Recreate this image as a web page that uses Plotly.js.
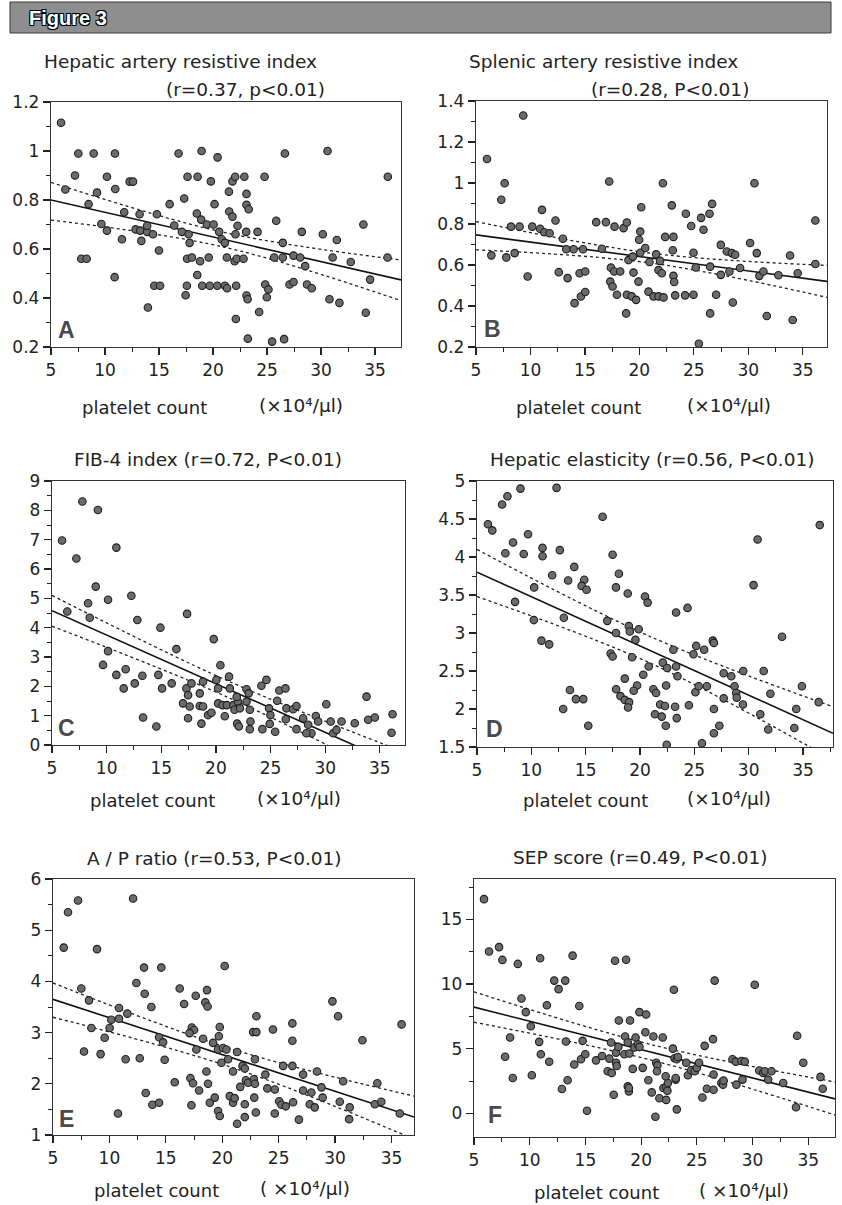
<!DOCTYPE html>
<html>
<head>
<meta charset="utf-8">
<script src="https://cdn.plot.ly/plotly-3.0.1.min.js"></script>
<style>html,body{margin:0;padding:0;background:#fff;}#chart{width:842px;height:1205px;}</style>
</head>
<body>
<div id="chart"></div>
<script>
// ---------------- DATA ----------------
const panelLetters = ["A", "B", "C", "D", "E", "F"];
const titleA = ["Hepatic artery resistive index", "(r=0.37, p<0.01)"];
const titleB = ["Splenic artery resistive index", "(r=0.28, P<0.01)"];
const titleC = "FIB-4 index (r=0.72, P<0.01)";
const titleD = "Hepatic elasticity (r=0.56, P<0.01)";
const titleE = "A / P ratio (r=0.53, P<0.01)";
const titleF = "SEP score (r=0.49, P<0.01)";
const figTitle = "Figure 3";
const xLabel = "platelet count";
const xUnit = "(×10⁴/μl)";
const xUnitSp = "( ×10⁴/μl)";

// [platelet count, value]
const ptsA = [[5.93,1.115],[7.53,0.99],[8.95,0.99],[10.92,0.99],[7.22,0.90],[6.33,0.843],[9.26,0.83],[10.18,0.895],[10.95,0.845],[8.48,0.783],[7.8,0.56],[8.3,0.56],[9.66,0.702],[10.18,0.675],[10.89,0.485],[11.78,0.75],[11.57,0.64],[12.28,0.875],[12.59,0.875],[13.2,0.742],[12.83,0.68],[13.26,0.675],[13.9,0.67],[13.36,0.633],[13.9,0.695],[13.97,0.361],[14.44,0.66],[14.8,0.742],[14.56,0.45],[15.1,0.45],[14.99,0.594],[15.98,0.783],[16.41,0.696],[16.81,0.99],[17.33,0.806],[17.12,0.67],[17.74,0.66],[17.64,0.895],[18.57,0.895],[18.94,1.0],[17.83,0.625],[17.6,0.56],[18.05,0.565],[17.58,0.45],[17.46,0.411],[18.54,0.494],[18.5,0.745],[18.9,0.72],[18.8,0.55],[19.6,0.565],[19.8,0.876],[20.42,0.974],[20.14,0.783],[19.43,0.70],[20.05,0.70],[19.0,0.45],[19.7,0.45],[20.4,0.45],[21.1,0.45],[21.3,0.44],[20.57,0.67],[20.8,0.64],[21.1,0.625],[21.47,0.834],[21.8,0.876],[21.5,0.753],[21.8,0.732],[21.28,0.565],[22.05,0.895],[22.27,0.695],[22.08,0.66],[22.0,0.55],[22.2,0.56],[22.14,0.45],[22.11,0.314],[22.9,0.895],[23.1,0.825],[23.1,0.78],[23.3,0.762],[23.07,0.67],[22.82,0.56],[23.1,0.41],[23.2,0.395],[23.22,0.234],[24.12,0.67],[24.27,0.343],[24.77,0.895],[24.83,0.455],[25.13,0.435],[24.98,0.403],[25.47,0.222],[25.85,0.715],[25.66,0.565],[26.46,0.625],[26.46,0.565],[26.65,0.99],[26.58,0.232],[27.08,0.455],[27.45,0.465],[27.45,0.573],[28.07,0.565],[28.22,0.67],[28.53,0.53],[28.7,0.455],[29.14,0.44],[30.16,0.66],[30.6,1.0],[30.78,0.395],[31.07,0.565],[31.46,0.637],[31.7,0.38],[32.75,0.547],[33.92,0.70],[34.14,0.34],[34.54,0.475],[36.18,0.895],[36.15,0.565]];
const ptsB = [[6.01,1.117],[9.34,1.329],[7.63,0.999],[7.32,0.918],[6.41,0.647],[7.78,0.637],[8.55,0.658],[8.21,0.787],[9.0,0.787],[9.74,0.544],[10.17,0.787],[11.06,0.869],[10.9,0.776],[11.27,0.76],[11.76,0.755],[12.3,0.817],[12.6,0.565],[12.98,0.728],[13.29,0.677],[13.41,0.536],[13.96,0.677],[14.05,0.414],[14.51,0.56],[14.82,0.677],[14.63,0.446],[15.03,0.468],[15.03,0.568],[16.04,0.809],[16.56,0.679],[16.93,0.809],[17.23,1.007],[17.39,0.587],[17.69,0.568],[17.33,0.519],[17.54,0.495],[17.94,0.455],[17.72,0.787],[18.55,0.78],[18.85,0.807],[18.24,0.568],[18.79,0.364],[19.0,0.624],[19.4,0.641],[18.85,0.455],[19.3,0.447],[19.7,0.43],[19.46,0.563],[19.92,0.519],[19.98,0.723],[20.08,0.763],[20.17,0.882],[20.08,0.66],[20.54,0.683],[20.93,0.615],[20.84,0.47],[21.3,0.447],[21.76,0.447],[22.22,0.442],[21.54,0.652],[21.9,0.62],[21.76,0.575],[22.06,0.56],[22.16,0.999],[22.37,0.737],[22.98,0.891],[23.13,0.737],[23.07,0.672],[23.13,0.547],[23.2,0.517],[23.29,0.452],[24.27,0.85],[24.2,0.452],[24.76,0.79],[24.97,0.66],[24.97,0.455],[25.18,0.588],[25.46,0.216],[25.67,0.83],[25.89,0.772],[26.44,0.85],[26.68,0.898],[26.5,0.592],[26.5,0.364],[27.05,0.455],[27.48,0.698],[27.48,0.552],[28.03,0.666],[28.49,0.658],[28.8,0.65],[28.27,0.568],[28.58,0.417],[29.25,0.585],[30.17,0.707],[30.57,0.999],[30.78,0.658],[31.02,0.547],[31.39,0.568],[31.7,0.351],[32.77,0.55],[33.84,0.646],[34.08,0.332],[34.54,0.56],[36.16,0.817],[36.16,0.605]];
const ptsC = [[5.92,6.97],[6.4,4.55],[7.23,6.36],[7.78,8.3],[9.2,8.01],[9.0,5.4],[8.3,4.83],[8.45,4.34],[10.13,4.95],[10.89,6.73],[12.26,5.09],[12.81,4.26],[14.92,4.0],[16.38,3.27],[17.36,4.47],[19.8,3.61],[10.13,3.2],[9.67,2.73],[10.89,2.39],[11.74,2.58],[11.56,1.93],[12.57,2.1],[13.27,2.36],[13.33,0.94],[14.55,0.63],[14.73,2.39],[15.07,1.93],[15.95,2.1],[16.99,1.42],[17.6,1.31],[17.45,0.91],[17.3,1.93],[17.45,1.7],[17.76,2.1],[18.52,1.76],[18.52,1.33],[18.82,1.31],[18.82,2.16],[18.67,0.73],[19.28,1.02],[19.59,1.1],[20.04,2.22],[20.2,1.93],[20.41,2.72],[20.2,1.42],[20.6,1.36],[20.81,0.98],[21.2,2.33],[21.27,1.93],[21.0,1.36],[21.6,1.36],[22.0,1.48],[21.7,1.2],[22.2,1.25],[21.9,1.64],[21.94,0.73],[22.1,0.63],[22.8,1.9],[23.0,1.76],[22.8,1.48],[23.1,1.2],[23.16,0.8],[23.1,0.54],[24.16,2.02],[24.62,2.22],[24.25,0.54],[24.86,1.25],[24.98,1.02],[24.92,0.72],[25.42,0.45],[25.6,1.51],[25.8,1.86],[26.36,1.93],[26.39,0.88],[26.45,1.25],[27.06,1.22],[27.37,1.33],[27.37,0.54],[27.98,0.91],[28.44,0.69],[28.74,0.4],[28.28,0.4],[29.14,0.99],[29.35,0.8],[30.1,1.39],[30.5,0.8],[30.73,0.4],[31.03,0.51],[31.49,0.8],[32.7,0.74],[33.78,1.65],[33.93,0.86],[34.54,0.94],[36.16,1.05],[36.07,0.42]];
const ptsD = [[6.01,4.43],[6.41,4.35],[7.31,4.69],[7.8,4.8],[9.0,4.9],[12.32,4.91],[7.61,4.05],[8.32,4.19],[9.3,4.04],[9.7,4.3],[11.03,4.12],[11.03,4.01],[12.62,4.09],[11.92,3.76],[10.26,3.6],[8.5,3.41],[10.23,3.17],[10.93,2.9],[11.64,2.85],[12.99,3.2],[13.39,3.69],[13.95,3.87],[14.87,3.7],[14.63,3.62],[15.08,3.57],[12.93,2.0],[13.55,2.25],[14.1,2.13],[14.78,2.13],[15.24,1.78],[16.56,4.53],[17.48,4.03],[18.06,3.78],[17.79,3.6],[18.87,3.52],[16.99,3.16],[17.79,3.0],[18.97,3.09],[19.06,3.02],[19.88,3.05],[19.58,2.91],[20.46,3.48],[20.7,3.4],[17.3,2.73],[17.48,2.69],[19.27,2.68],[18.6,2.4],[17.8,2.26],[18.2,2.17],[18.6,2.12],[19.0,2.09],[18.9,2.02],[19.73,2.31],[19.42,2.24],[20.3,2.45],[20.8,2.56],[21.23,2.26],[21.48,2.21],[21.38,1.93],[22.0,1.9],[21.85,2.06],[22.3,2.04],[22.1,2.61],[22.5,2.54],[22.4,2.31],[22.37,1.78],[22.46,1.53],[23.07,2.78],[23.32,3.27],[23.45,2.43],[23.23,2.03],[23.38,1.88],[23.32,2.56],[24.37,3.33],[24.5,2.05],[24.92,2.72],[25.17,2.83],[25.1,2.22],[25.4,2.3],[25.9,2.78],[26.15,2.3],[25.7,1.55],[26.7,2.9],[26.8,2.87],[26.8,2.0],[26.8,1.68],[27.3,1.78],[27.7,2.47],[28.4,2.43],[27.7,2.14],[28.7,2.3],[28.85,2.21],[28.9,2.15],[29.47,2.06],[29.5,2.5],[30.45,3.63],[30.82,4.23],[31.07,1.93],[31.38,2.5],[32.0,2.2],[31.8,1.73],[33.07,2.95],[34.2,1.75],[34.38,2.0],[34.9,2.3],[36.54,4.42],[36.44,2.09]];
const ptsE = [[5.95,4.66],[6.33,5.35],[7.22,5.58],[7.51,3.86],[8.19,3.63],[7.75,2.63],[8.4,3.09],[8.9,4.63],[9.22,2.58],[9.58,2.9],[10.02,3.09],[10.17,3.25],[10.85,3.48],[10.85,3.27],[10.76,1.42],[11.59,3.37],[11.44,2.48],[12.1,5.62],[12.39,3.97],[12.69,2.5],[13.07,4.27],[13.13,3.76],[13.22,1.82],[13.72,3.5],[13.81,1.59],[14.4,1.63],[14.6,4.27],[14.4,2.91],[14.76,2.81],[14.9,2.47],[15.79,2.03],[16.23,3.86],[16.62,3.56],[17.27,1.58],[17.18,2.11],[17.41,2.01],[17.3,3.1],[17.5,3.05],[17.1,2.99],[17.65,3.72],[17.71,2.67],[17.95,1.87],[18.3,2.88],[18.5,3.59],[18.7,3.51],[18.65,3.83],[18.6,2.24],[18.74,2.0],[18.9,1.63],[19.19,2.8],[19.63,2.67],[19.34,1.73],[19.63,1.47],[19.78,1.37],[19.78,3.11],[19.7,2.93],[19.93,2.41],[20.22,4.3],[20.07,2.7],[20.37,2.67],[20.52,2.48],[20.67,1.76],[20.96,1.63],[21.1,1.72],[20.96,2.24],[21.32,2.62],[21.32,1.22],[21.6,1.94],[22.0,1.6],[21.8,2.35],[22.0,2.3],[22.1,2.07],[22.3,2.02],[22.0,1.35],[22.8,2.09],[22.9,2.0],[22.74,3.01],[23.03,3.01],[23.03,3.32],[22.9,2.48],[22.84,1.73],[22.98,1.44],[23.83,2.18],[24.0,1.91],[24.5,3.06],[24.66,1.89],[24.66,1.42],[25.05,1.66],[25.25,1.59],[25.4,2.35],[25.63,1.56],[26.22,3.18],[26.22,2.35],[26.22,2.84],[26.28,1.64],[26.8,1.3],[27.17,2.18],[27.17,1.87],[27.9,1.83],[27.76,1.6],[28.2,1.54],[28.4,2.24],[28.8,1.93],[28.9,1.73],[29.77,3.61],[30.27,3.32],[30.42,1.65],[30.72,2.05],[31.25,1.31],[31.3,1.54],[32.43,2.85],[33.53,1.6],[33.75,2.01],[34.1,1.65],[35.74,1.42],[35.9,3.16]];
const ptsF = [[5.9,16.57],[6.35,12.52],[7.25,12.86],[7.55,11.87],[8.93,11.56],[10.94,12.0],[13.85,12.2],[17.66,11.8],[18.65,11.88],[12.2,10.27],[13.19,10.27],[12.59,9.61],[22.94,9.56],[26.6,10.27],[30.2,9.95],[9.26,8.88],[9.65,7.83],[11.54,8.36],[14.45,8.3],[18.0,7.18],[19.0,7.18],[19.85,7.83],[20.45,7.65],[10.1,6.74],[8.24,5.87],[7.79,4.38],[8.48,2.74],[10.19,2.95],[10.85,5.53],[11.0,4.57],[11.75,3.99],[12.89,1.88],[13.25,5.56],[13.4,2.56],[14.0,3.78],[14.6,4.18],[14.75,5.61],[14.99,4.57],[15.14,0.2],[15.95,4.1],[16.49,4.44],[17.15,4.23],[17.3,5.48],[17.0,3.26],[17.36,3.13],[17.54,1.44],[17.75,3.92],[17.81,3.66],[17.75,4.7],[17.96,5.14],[18.56,5.95],[18.8,5.48],[18.5,4.57],[18.95,4.63],[18.8,2.09],[18.9,1.7],[18.9,1.96],[19.25,3.44],[19.4,5.1],[19.7,5.35],[19.85,5.14],[19.5,5.87],[20.14,3.52],[20.38,6.27],[20.65,2.56],[20.95,1.62],[21.1,5.95],[21.35,3.92],[21.46,3.71],[21.42,3.26],[21.28,-0.26],[21.64,1.17],[21.94,5.87],[22.0,1.96],[22.25,2.04],[22.36,1.75],[22.25,1.04],[22.4,2.35],[22.2,2.87],[22.85,5.01],[23.0,4.26],[23.2,4.18],[23.3,4.36],[23.1,2.61],[23.1,2.74],[23.2,0.31],[24.2,2.95],[24.05,3.92],[24.5,3.34],[24.8,3.26],[25.0,3.52],[25.2,3.92],[25.5,1.23],[25.7,5.22],[25.9,1.9],[26.45,5.74],[26.5,3.0],[26.5,1.83],[27.2,2.35],[27.35,2.22],[27.4,2.53],[28.2,4.18],[28.5,4.0],[29.0,4.05],[29.3,4.0],[28.55,2.22],[29.1,2.61],[30.6,3.31],[30.95,3.13],[31.1,3.26],[31.7,3.26],[31.4,2.61],[32.75,2.35],[34.0,6.0],[33.9,0.47],[34.55,3.92],[36.1,2.82],[36.3,1.9]];

// regression line and 95% band read at three x positions
const fitXA = [5, 21, 37.4],  fitA = [0.80, 0.639, 0.474], upA = [0.872, 0.668, 0.555], loA = [0.718, 0.608, 0.389];
const fitXB = [5, 21, 37.23], fitB = [0.747, 0.635, 0.52], upB = [0.812, 0.658, 0.598], loB = [0.674, 0.61, 0.442];
const fitXC = [5, 21, 37.3],  fitC = [4.58, 1.92, -0.78],  upC = [5.1, 2.2, -0.25],    loC = [4.05, 1.64, -1.35];
const fitXD = [5, 21, 37.76], fitD = [3.8, 2.765, 1.68],   upD = [4.1, 2.95, 2.03],    loD = [3.48, 2.6, 1.33];
const fitXE = [5, 21, 37.0],  fitE = [3.65, 2.5, 1.35],    upE = [3.97, 2.67, 1.76],   loE = [3.3, 2.31, 0.92];
const fitXF = [5, 21, 37.4],  fitF = [8.22, 4.71, 1.12],   upF = [9.4, 5.3, 2.43],     loF = [7.05, 4.1, -0.13];

// ---------------- DRAWING ----------------
const W = 842, H = 1205;
const px = v => v / W;
const py = v => 1 - v / H;
const FONT = "DejaVu Sans, Liberation Sans, Arial, sans-serif";
const INK = "#222";

const panels = [
  {pts: ptsA, fx: fitXA, fit: fitA, up: upA, lo: loA, box: [51, 401, 102, 347],  xr: [5, 37.4],  yr: [0.2, 1.2], yd: 0.2, ym: 0.1, y0: 0.2},
  {pts: ptsB, fx: fitXB, fit: fitB, up: upB, lo: loB, box: [476, 827, 101, 347], xr: [5, 37.23], yr: [0.2, 1.4], yd: 0.2, ym: 0.1, y0: 0.2},
  {pts: ptsC, fx: fitXC, fit: fitC, up: upC, lo: loC, box: [52, 405, 481, 745],  xr: [5, 37.3],  yr: [0, 9],     yd: 1,   ym: 0.5, y0: 0},
  {pts: ptsD, fx: fitXD, fit: fitD, up: upD, lo: loD, box: [477, 833, 481, 747], xr: [5, 37.76], yr: [1.5, 5],   yd: 0.5, ym: 0.25, y0: 1.5},
  {pts: ptsE, fx: fitXE, fit: fitE, up: upE, lo: loE, box: [53, 414, 879, 1135], xr: [5, 37.0],  yr: [1, 6],     yd: 1,   ym: 0.5, y0: 1},
  {pts: ptsF, fx: fitXF, fit: fitF, up: upF, lo: loF, box: [474, 835, 879, 1137],xr: [5, 37.4],  yr: [-1.83, 18.13], yd: 5, ym: 2.5, y0: 0}
];

const traces = [];
const layout = {
  width: W, height: H,
  margin: {l: 0, r: 0, t: 0, b: 0},
  paper_bgcolor: "#fff", plot_bgcolor: "#fff",
  showlegend: false,
  font: {family: FONT, color: INK},
  annotations: [], shapes: []
};

panels.forEach((p, i) => {
  const n = i === 0 ? "" : String(i + 1);
  const xa = "x" + n, ya = "y" + n;
  const band = {color: INK, width: 1.3, dash: "3px,3px"};
  traces.push({x: p.fx, y: p.up, xaxis: xa, yaxis: ya, mode: "lines", line: Object.assign({shape: "spline"}, band), hoverinfo: "skip"});
  traces.push({x: p.fx, y: p.lo, xaxis: xa, yaxis: ya, mode: "lines", line: Object.assign({shape: "spline"}, band), hoverinfo: "skip"});
  traces.push({x: p.fx, y: p.fit, xaxis: xa, yaxis: ya, mode: "lines", line: {color: "#111", width: 1.6}, hoverinfo: "skip"});
  traces.push({
    x: p.pts.map(d => d[0]), y: p.pts.map(d => d[1]), xaxis: xa, yaxis: ya,
    mode: "markers",
    marker: {size: 7.5, color: "#6b6b6b", line: {color: "#1e1e1e", width: 1.1}}
  });
  const [l, r, t, b] = p.box;
  layout["xaxis" + n] = {
    domain: [px(l), px(r)], anchor: ya, range: p.xr,
    tick0: 5, dtick: 5, ticks: "outside", ticklen: 7, tickwidth: 1.2, tickcolor: INK,
    minor: {tick0: 5, dtick: 2.5, ticks: "outside", ticklen: 4, tickwidth: 1, tickcolor: INK},
    showline: true, linecolor: "#333", linewidth: 1.2, mirror: true,
    showgrid: false, zeroline: false,
    tickfont: {family: FONT, size: 17, color: INK}
  };
  layout["yaxis" + n] = {
    domain: [py(b), py(t)], anchor: xa, range: p.yr,
    tick0: p.y0, dtick: p.yd, ticks: "outside", ticklen: 7, tickwidth: 1.2, tickcolor: INK,
    minor: {tick0: p.y0, dtick: p.ym, ticks: "outside", ticklen: 4, tickwidth: 1, tickcolor: INK},
    showline: true, linecolor: "#333", linewidth: 1.2, mirror: true,
    showgrid: false, zeroline: false,
    tickfont: {family: FONT, size: 17, color: INK}
  };
});

function txt(text, x, y, size, opts) {
  layout.annotations.push(Object.assign({
    text: text, xref: "paper", yref: "paper", x: px(x), y: py(y),
    xanchor: "center", yanchor: "middle", showarrow: false,
    font: {family: FONT, size: size, color: INK}
  }, opts || {}));
}

// titles
txt(titleA[0], 180, 61, 18.5);
txt(titleA[1], 246, 90, 18.5);
txt(titleB[0], 603, 61, 18.5);
txt(titleB[1], 670, 90, 18.5);
txt(titleC, 208, 460, 18.5);
txt(titleD, 652, 460, 18.5);
txt(titleE, 214, 858, 18.5);
txt(titleF, 640, 857, 18.5);

// x axis titles
const xt = [[144, 301, 407, xUnit], [578, 729, 407, xUnit], [152, 299, 800, xUnit], [585, 729, 800, xUnit], [156, 305, 1190, xUnitSp], [596, 744, 1192, xUnitSp]];
xt.forEach(a => { txt(xLabel, a[0], a[2], 18); txt(a[3], a[1], a[2] - 2, 18.5); });

// panel letters
const lp = [[66, 330], [493, 329], [66, 728], [495, 729], [66, 1119], [495, 1115]];
lp.forEach((c, i) => txt(panelLetters[i], c[0], c[1], 23, {font: {family: "Liberation Sans, Arial, sans-serif", size: 23, weight: "bold", color: "#4a4a4a"}}));

// header bar
layout.shapes.push({type: "rect", xref: "paper", yref: "paper", x0: px(10), x1: px(831), y0: py(33), y1: py(2), fillcolor: "#8e8e8e", line: {color: "#3a3a3a", width: 1}, layer: "below"});
txt(figTitle, 27, 18, 20, {xanchor: "left", font: {family: "Liberation Sans Narrow, Liberation Sans, Arial, sans-serif", size: 20, weight: "bold", color: "#ffffff", shadow: "1px 1px 0 #000, -1px -1px 0 #000, 1px -1px 0 #000, -1px 1px 0 #000"}});

Plotly.newPlot("chart", traces, layout, {displayModeBar: false, staticPlot: true});
</script>
</body>
</html>
